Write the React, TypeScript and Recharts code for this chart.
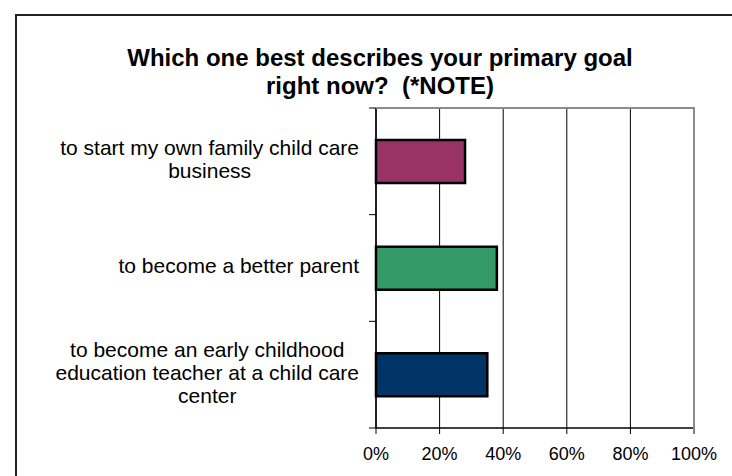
import {BarChart, Bar, XAxis, YAxis, CartesianGrid, Cell} from "recharts";

const categories = [
    "to start my own family child care business",
    "to become a better parent",
    "to become an early childhood education teacher at a child care center",
];
const categoryLines = [
    ["to start my own family child care", "business"],
    ["to become a better parent"],
    ["to become an early childhood", "education teacher at a child care", "center"],
];
const shares = [0.28, 0.38, 0.35];
const barColors = ["#993366", "#339966", "#003366"];
const xTicks = [0, 0.2, 0.4, 0.6, 0.8, 1];

const W = 732;
const H = 476;
const PLOT_LEFT = 376;
const PLOT_TOP = 108;
const PLOT_RIGHT = 38;
const PLOT_BOTTOM = 48;
const PLOT_W = W - PLOT_LEFT - PLOT_RIGHT;
const PLOT_H = H - PLOT_TOP - PLOT_BOTTOM;
const LABEL_FONT = "21px 'Liberation Sans', Arial, sans-serif";
const LABEL_RIGHT = 359;
const LINE_H = 23;

let ctx: CanvasRenderingContext2D | null = null;
const measure = (s: string) => {
    if (!ctx) {
        ctx = document.createElement("canvas").getContext("2d");
    }
    if (!ctx) return s.length * 10;
    ctx.font = LABEL_FONT;
    return ctx.measureText(s).width;
};

const chartData = categories.map((name, i) => ({name, value: shares[i]}));

const CategoryTick = (props: any) => {
    const {y, index} = props;
    const lines = categoryLines[index] || [];
    const maxW = Math.max(...lines.map(measure));
    const cx = LABEL_RIGHT - maxW / 2;
    const band = PLOT_H / categories.length;
    const firstY = y - 3 - ((lines.length - 1) * LINE_H) / 2;
    return (
        <g>
            <line x1={PLOT_LEFT - 7} x2={PLOT_LEFT} y1={y - band / 2} y2={y - band / 2} stroke="#000" strokeWidth={1}/>
            {index === categories.length - 1 && (
                <line x1={PLOT_LEFT - 7} x2={PLOT_LEFT} y1={y + band / 2} y2={y + band / 2} stroke="#000" strokeWidth={1}/>
            )}
            <text x={cx} y={firstY} textAnchor="middle" dominantBaseline="central"
                  style={{font: LABEL_FONT}} fill="#000">
                {lines.map((l, i) => (
                    <tspan key={i} x={cx} y={firstY + i * LINE_H}>{l}</tspan>
                ))}
            </text>
        </g>
    );
};

const App = () => {
    return (
        <div style={{position: "absolute", left: 0, top: 0, width: W, height: H, overflow: "hidden", background: "#fff"}}>
            <div style={{position: "absolute", left: 15, top: 14, width: 800, height: 600, border: "2px solid #222"}}/>
            <div style={{
                position: "absolute", left: 0, width: 760, top: 44, textAlign: "center",
                font: "bold 24px 'Liberation Sans', Arial, sans-serif", lineHeight: "28px", color: "#000"
            }}>
                Which one best describes your primary goal<br/>right now?&nbsp; (*NOTE)
            </div>
            <div style={{position: "absolute", left: 0, top: 0}}>
                <BarChart width={W} height={H} data={chartData} layout="vertical" barCategoryGap="30%"
                          margin={{top: PLOT_TOP, right: PLOT_RIGHT, bottom: 0, left: 0}}>
                    <CartesianGrid horizontal={false} vertical={true} stroke="#000" strokeWidth={1}/>
                    <XAxis type="number" domain={[0, 1]} ticks={xTicks} interval={0}
                           tickFormatter={(v: number) => `${Math.round(v * 100)}%`}
                           axisLine={{stroke: "#000", strokeWidth: 1.5}} tickLine={{stroke: "#000"}}
                           tickSize={6} tickMargin={13} height={PLOT_BOTTOM}
                           tick={{fill: "#000", fontSize: 18, fontFamily: "'Liberation Sans', Arial, sans-serif"}}/>
                    <YAxis type="category" dataKey="name" width={PLOT_LEFT}
                           axisLine={{stroke: "#000", strokeWidth: 1.5}} tickLine={false}
                           tick={<CategoryTick/>} interval={0}/>
                    <Bar dataKey="value" stroke="#000" strokeWidth={2.5} isAnimationActive={false}>
                        {chartData.map((_, i) => (
                            <Cell key={i} fill={barColors[i]}/>
                        ))}
                    </Bar>
                </BarChart>
            </div>
            {/* gray top and right edges of the plot frame */}
            <div style={{
                position: "absolute", left: PLOT_LEFT, top: PLOT_TOP - 1, width: PLOT_W - 1, height: PLOT_H,
                borderTop: "2px solid #8c8c8c", borderRight: "2px solid #8c8c8c", pointerEvents: "none"
            }}/>
        </div>
    );
};

export default App;
